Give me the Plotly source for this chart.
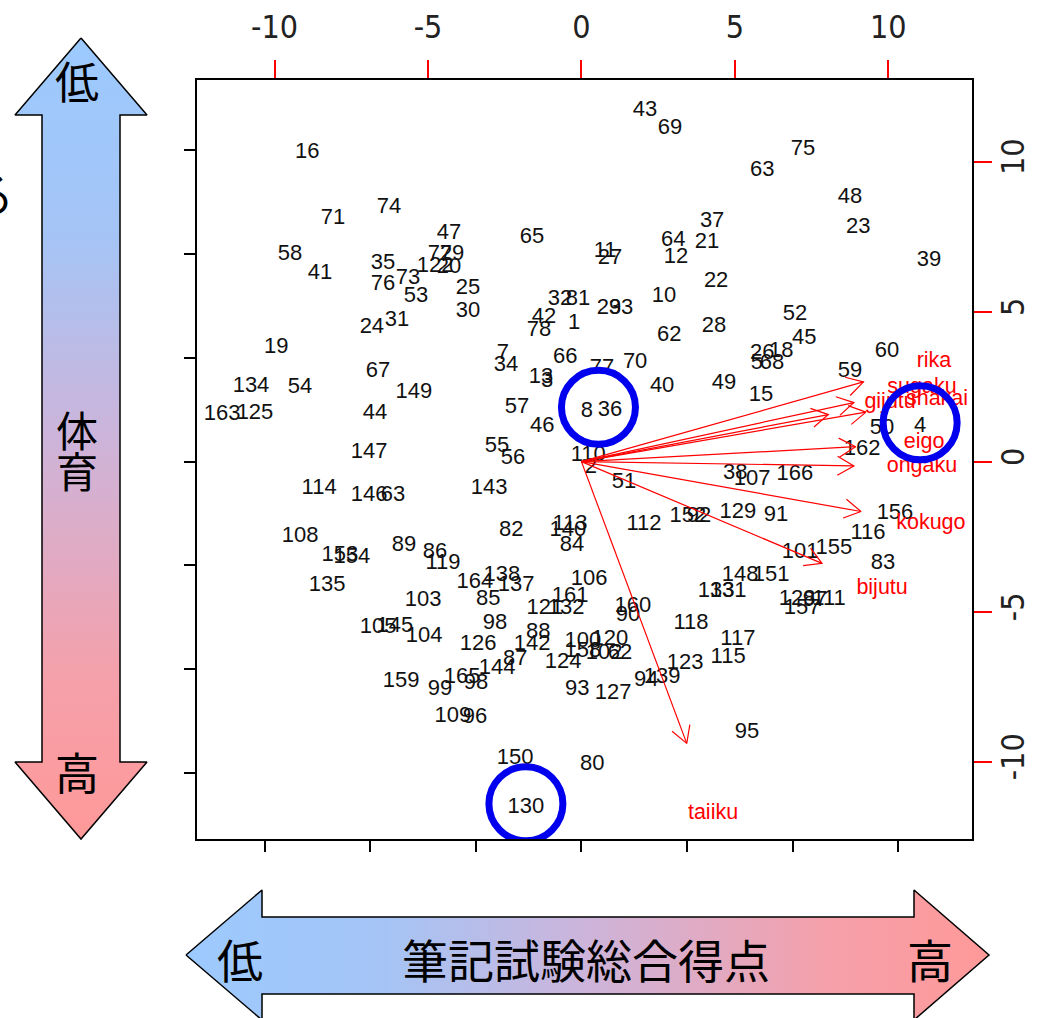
import numpy as np
import plotly.graph_objects as go

# ---- student scores on the first two principal components ----
ids = ["43", "69", "75", "16", "63", "48", "74", "71", "37", "23",
       "47", "65", "64", "21", "11", "27", "12", "58", "72", "79",
       "39", "35", "122", "20", "41", "73", "22", "25", "76", "53",
       "10", "32", "81", "29", "33", "30", "24", "31", "42", "78",
       "1", "62", "28", "52", "45", "19", "60", "7", "34", "66",
       "77", "70", "26", "18", "5", "68", "67", "59", "134", "54",
       "13", "3", "40", "49", "149", "15", "163", "125", "44", "57",
       "46", "8", "36", "50", "4", "162", "147", "55", "56", "110",
       "2", "51", "114", "146", "63", "143", "38", "166", "107", "156",
       "129", "91", "152", "92", "112", "82", "113", "140", "84", "116",
       "155", "101", "83", "108", "153", "154", "89", "86", "119", "135",
       "164", "138", "137", "85", "106", "161", "103", "98", "121", "132",
       "160", "90", "118", "148", "151", "133", "131", "128", "97", "111",
       "157", "117", "115", "123", "94", "139", "120", "100", "158", "102",
       "62", "88", "142", "126", "87", "144", "124", "93", "127", "159",
       "99", "165", "98", "109", "96", "105", "145", "104", "150", "80",
       "130", "95"]

pc1 = [2.07, 2.89, 7.22, -8.94, 5.89, 8.75, -6.27, -8.10, 4.26, 9.02,
       -4.32, -1.61, 2.99, 4.09, 0.77, 0.93, 3.08, -9.50, -4.61, -4.22,
       11.33, -6.47, -4.77, -4.32, -8.52, -5.65, 4.39, -3.70, -6.47, -5.39,
       2.69, -0.70, -0.11, 0.90, 1.29, -3.70, -6.83, -6.01, -1.22, -1.38,
       -0.24, 2.86, 4.32, 6.96, 7.26, -9.95, 9.96, -2.56, -2.46, -0.53,
       0.67, 1.75, 5.89, 6.51, 5.72, 6.21, -6.63, 8.75, -10.77, -9.17,
       -1.32, -1.12, 2.63, 4.65, -5.46, 5.85, -11.71, -10.64, -6.73, -2.10,
       -1.28, 0.18, 0.93, 9.80, 11.04, 9.15, -6.92, -2.75, -2.23, 0.22,
       0.31, 1.39, -8.55, -6.92, -6.14, -3.01, 5.01, 6.96, 5.56, 10.22,
       5.10, 6.34, 3.47, 3.83, 2.04, -2.29, -0.37, -0.44, -0.31, 9.34,
       8.23, 7.13, 9.83, -9.17, -7.87, -7.48, -5.78, -4.77, -4.51, -8.29,
       -3.47, -2.59, -2.13, -3.04, 0.25, -0.37, -5.16, -2.82, -1.19, -0.50,
       1.68, 1.52, 3.57, 5.17, 6.18, 4.39, 4.78, 7.03, 7.61, 8.07,
       7.19, 5.10, 4.78, 3.38, 2.11, 2.63, 0.93, 0.05, 0.05, 0.74,
       1.26, -1.41, -1.61, -3.37, -2.16, -2.75, -0.60, -0.14, 1.03, -5.88,
       -4.61, -3.89, -3.44, -4.19, -3.47, -6.63, -6.08, -5.13, -2.16, 0.35,
       -1.81, 5.40]

pc2 = [11.72, 11.09, 10.42, 10.29, 9.69, 8.79, 8.46, 8.09, 8.02, 7.79,
       7.59, 7.46, 7.36, 7.32, 7.02, 6.76, 6.82, 6.92, 6.92, 6.92,
       6.69, 6.59, 6.49, 6.46, 6.26, 6.12, 6.02, 5.76, 5.89, 5.52,
       5.49, 5.42, 5.39, 5.09, 5.09, 5.02, 4.46, 4.69, 4.79, 4.36,
       4.62, 4.22, 4.52, 4.89, 4.09, 3.79, 3.66, 3.62, 3.19, 3.46,
       3.12, 3.32, 3.59, 3.66, 3.26, 3.26, 2.99, 3.02, 2.52, 2.46,
       2.79, 2.66, 2.52, 2.62, 2.29, 2.19, 1.56, 1.62, 1.59, 1.79,
       1.16, 1.66, 1.69, 1.12, 1.16, 0.42, 0.29, 0.52, 0.09, 0.19,
       -0.18, -0.68, -0.88, -1.14, -1.14, -0.91, -0.38, -0.44, -0.61, -1.74,
       -1.68, -1.78, -1.84, -1.84, -2.08, -2.28, -2.08, -2.31, -2.78, -2.41,
       -2.88, -3.04, -3.41, -2.48, -3.14, -3.18, -2.81, -3.04, -3.38, -4.14,
       -4.04, -3.81, -4.14, -4.58, -3.94, -4.48, -4.64, -5.38, -4.91, -4.91,
       -4.84, -5.14, -5.38, -3.78, -3.78, -4.34, -4.34, -4.58, -4.64, -4.61,
       -4.91, -5.94, -6.54, -6.74, -7.31, -7.18, -5.94, -6.01, -6.34, -6.38,
       -6.41, -5.68, -6.11, -6.11, -6.58, -6.88, -6.71, -7.58, -7.74, -7.34,
       -7.61, -7.21, -7.41, -8.48, -8.54, -5.54, -5.51, -5.84, -9.88, -10.11,
       -11.54, -9.04]

# ---- subject loadings (label positions; arrows drawn to 80 %) ----
subjects = ["rika", "sugaku", "gijutu", "shakai", "eigo",
            "ongaku", "kokugo", "bijutu", "taiiku"]
load1 = [11.49, 11.10, 10.06, 11.59, 11.17, 11.10, 11.39, 9.80, 4.29]
load2 = [3.32, 2.46, 1.96, 2.06, 0.62, -0.18, -2.08, -4.24, -11.74]

loading_ticks = [-10, -5, 0, 5, 10]
loading_ticktext = ["-10", "-5", "0", "5", "10"]
score_step_x = 3.44
score_step_y = 3.457

# students singled out with a ring
highlighted = [["8", "36"], ["4"], ["130"]]

# ---- figure geometry ----
W, H = 1050, 1018
dom_x = [197 / W, 972 / W]
dom_y = [1 - 839 / H, 1 - 80 / H]
x_rng = [-12.53, 12.73]
y_rng = [-12.58, 12.72]
px_x = W * (dom_x[1] - dom_x[0]) / (x_rng[1] - x_rng[0])
px_y = H * (dom_y[1] - dom_y[0]) / (y_rng[1] - y_rng[0])

fig = go.Figure()

# student labels
fig.add_trace(go.Scatter(
    x=pc1, y=pc2, text=ids, mode="text", textposition="middle center",
    textfont=dict(family="Liberation Sans, Arial, sans-serif", size=22, color="#111111"),
    hoverinfo="text", showlegend=False))

# loading arrows with open heads
head_len, head_ang = 19.0, np.radians(30)
ax_, ay_ = [], []
for a, b in zip(load1, load2):
    tx, ty = 0.8 * a, 0.8 * b
    ang = np.arctan2(ty * px_y, tx * px_x)
    ax_ += [0, tx, None]
    ay_ += [0, ty, None]
    pts = []
    for s in (1, -1):
        hx = tx - head_len * np.cos(ang + s * head_ang) / px_x
        hy = ty - head_len * np.sin(ang + s * head_ang) / px_y
        pts.append((hx, hy))
    ax_ += [pts[0][0], tx, pts[1][0], None]
    ay_ += [pts[0][1], ty, pts[1][1], None]
fig.add_trace(go.Scatter(x=ax_, y=ay_, mode="lines",
                         line=dict(color="#ff0000", width=1.2),
                         hoverinfo="skip", showlegend=False))
fig.add_trace(go.Scatter(
    x=load1, y=load2, text=subjects, mode="text", textposition="middle center",
    textfont=dict(family="Liberation Sans, Arial, sans-serif", size=21.5, color="#ff0000"),
    hoverinfo="text", showlegend=False))

# empty trace so that the score axes (bottom / left) are drawn
fig.add_trace(go.Scatter(x=[None], y=[None], xaxis="x2", yaxis="y2",
                         mode="markers", hoverinfo="skip", showlegend=False))

# rings around highlighted students
lookup = {}
for i, s in enumerate(ids):
    lookup.setdefault(s, i)
for grp in highlighted:
    cx = float(np.mean([pc1[lookup[g]] for g in grp]))
    cy = float(np.mean([pc2[lookup[g]] for g in grp]))
    r = 37
    fig.add_shape(type="circle", xref="x", yref="y",
                  xsizemode="pixel", ysizemode="pixel",
                  xanchor=cx, yanchor=cy,
                  x0=-r, x1=r, y0=-r + 4, y1=r + 4,
                  line=dict(color="#0000ee", width=7))

# decorative gradient arrows (drawn in page pixel coordinates)
grad = [[0, "rgb(156,202,255)"], [0.25, "rgb(165,196,245)"],
        [0.5, "rgb(205,180,218)"], [0.8, "rgb(245,160,170)"],
        [1, "rgb(255,153,153)"]]
vx = [81, 147, 120, 120, 147, 81, 15, 42, 42, 15, 81]
vy = [38, 115, 115, 762, 762, 839, 762, 762, 115, 115, 38]
fig.add_trace(go.Scatter(
    x=vx, y=vy, xaxis="x3", yaxis="y3", mode="lines", fill="toself",
    fillgradient=dict(type="vertical", colorscale=grad, start=38, stop=839),
    line=dict(color="black", width=1.5), hoverinfo="skip", showlegend=False))
hx_ = [186, 262, 262, 914, 914, 989, 914, 914, 262, 262, 186]
hy_ = [955, 890, 917, 917, 890, 955, 1020, 994, 994, 1020, 955]
fig.add_trace(go.Scatter(
    x=hx_, y=hy_, xaxis="x3", yaxis="y3", mode="lines", fill="toself",
    fillgradient=dict(type="horizontal", colorscale=grad, start=186, stop=989),
    line=dict(color="black", width=1.5), hoverinfo="skip", showlegend=False))

jp = "Noto Sans CJK JP, sans-serif"
for txt, x, y, sz in [("低", 77, 80, 44), ("体", 77, 428, 42), ("育", 77, 469, 42),
                      ("高", 77, 771, 44), ("低", 240, 958, 46),
                      ("筆記試験総合得点", 586, 958, 46), ("高", 930, 958, 46)]:
    fig.add_annotation(x=x, y=y, xref="x3", yref="y3", text=txt, showarrow=False,
                       font=dict(family=jp, size=sz, color="black"),
                       xanchor="center", yanchor="middle")
# text running off the left edge of the page
fig.add_annotation(x=-9 / W, y=1 - 192 / H, xref="paper", yref="paper", text="る",
                   showarrow=False, font=dict(family=jp, size=46, color="black"),
                   xanchor="center", yanchor="middle")

narrow = "Liberation Sans Narrow, Arial Narrow, DejaVu Sans Condensed, sans-serif"
common = dict(showgrid=False, zeroline=False)
sx_ticks = [k * score_step_x for k in range(-3, 4)]
sy_ticks = [k * score_step_y for k in range(-3, 4)]
fig.update_layout(
    width=W, height=H, margin=dict(l=0, r=0, t=0, b=0),
    paper_bgcolor="white", plot_bgcolor="rgba(0,0,0,0)", showlegend=False,
    xaxis=dict(domain=dom_x, range=x_rng, side="top", anchor="y",
               tickvals=loading_ticks, ticktext=loading_ticktext,
               ticks="outside", ticklen=18, tickwidth=1.5, ticklabelstandoff=9,
               tickcolor="#ff0000", tickfont=dict(family=narrow, size=32, color="#222"),
               showline=True, linecolor="black", linewidth=1.5, mirror=True,
               automargin=False, **common),
    yaxis=dict(domain=dom_y, range=y_rng, side="right", anchor="x",
               tickvals=loading_ticks, ticktext=loading_ticktext,
               ticks="outside", ticklen=18, tickwidth=1.5, ticklabelstandoff=-6,
               tickcolor="#ff0000", tickangle=-90,
               tickfont=dict(family=narrow, size=32, color="#222"),
               showline=True, linecolor="black", linewidth=1.5, mirror=True,
               automargin=False, **common),
    xaxis2=dict(range=x_rng, overlaying="x", side="bottom", anchor="y2",
                tickvals=sx_ticks, ticks="outside", ticklen=12, tickwidth=1.5,
                tickcolor="black", showticklabels=False, showline=False,
                automargin=False, **common),
    yaxis2=dict(range=y_rng, overlaying="y", side="left", anchor="x2",
                tickvals=sy_ticks, ticks="outside", ticklen=12, tickwidth=1.5,
                tickcolor="black", showticklabels=False, showline=False,
                automargin=False, **common),
    xaxis3=dict(domain=[0, 1], range=[0, W], anchor="y3", visible=False, **common),
    yaxis3=dict(domain=[0, 1], range=[H, 0], anchor="x3", visible=False, **common),
)

fig.write_html("out.html")
